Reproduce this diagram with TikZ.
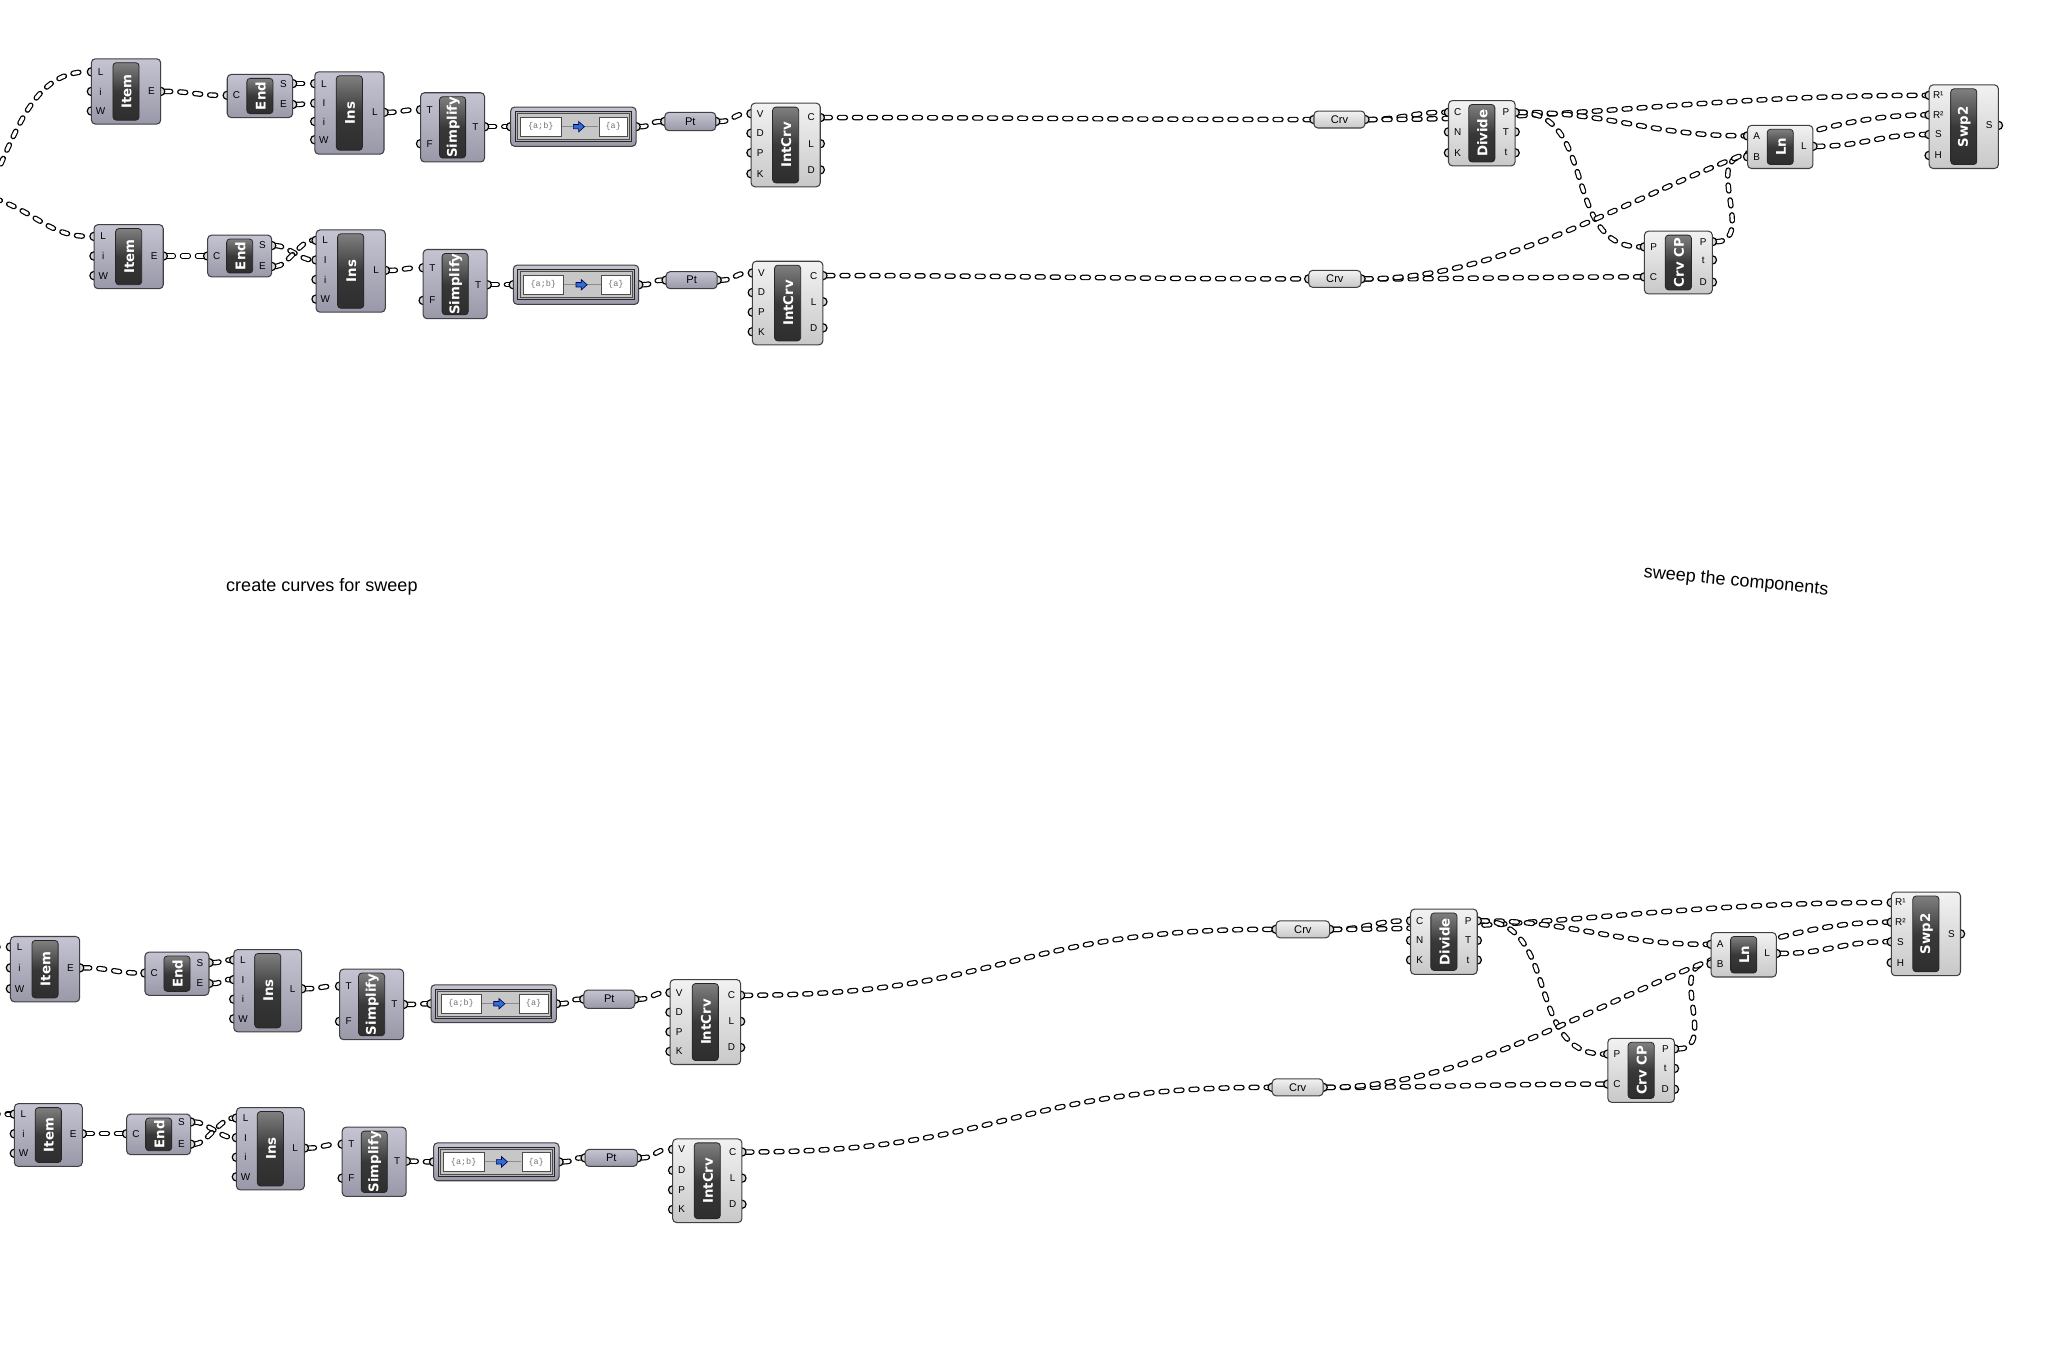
\documentclass[tikz,border=0pt]{standalone}
\usepackage{fontspec}
\setmainfont{Liberation Sans}
\newfontfamily\barfont{DejaVu Sans}
\newfontfamily\cellfont{Liberation Mono}
\pgfdeclarelayer{wires}
\pgfsetlayers{wires,main}
\definecolor{ghPa}{HTML}{C4C4D2}
\definecolor{ghPb}{HTML}{9898A8}
\definecolor{ghLa}{HTML}{F2F2F2}
\definecolor{ghLb}{HTML}{C8C8C8}
\definecolor{ghBlue}{HTML}{2F6FD0}
\tikzset{
  wire/.style={draw=black, line width=0.9pt, double=white, double distance=2.4pt, line cap=round, dash pattern=on 4.5pt off 7pt},
  pbox/.style={draw=black!75, line width=0.8pt, rounded corners=3pt, top color=ghPa, bottom color=ghPb},
  lbox/.style={draw=black!75, line width=0.8pt, rounded corners=3pt, top color=ghLa, bottom color=ghLb},
  barbox/.style={draw=black!85, line width=0.6pt, rounded corners=2.5pt, top color=black!50, bottom color=black!82, middle color=black!78},
  portc/.style={draw=black, line width=0.9pt, fill=black!15},
  plab/.style={font=\fontsize{7.6}{8}\selectfont, inner sep=0pt},
  barlab/.style={font=\barfont\bfseries\fontsize{10.2}{12}\selectfont, text=white, rotate=90, inner sep=0pt},
  ptext/.style={font=\fontsize{8.5}{9}\selectfont, inner sep=0pt},
  flatcell/.style={draw=black!70, fill=white, minimum height=14pt, inner sep=0pt, font=\cellfont\fontsize{6.5}{7}\selectfont, text=black!55},
  note/.style={font=\fontsize{13.8}{16}\selectfont, inner sep=0pt, anchor=base west}
}
% component: name x1 y1 x2 y2 label style inputs outputs
\newcommand\ghcomp[9]{%
  \foreach \yy/\lab [count=\k] in {#8}{%
    \draw[portc] (#2,\yy) circle[radius=3.2pt];
    \coordinate (#1-i\k) at ({#2-3.2},\yy);
  }%
  \foreach \yy/\lab [count=\k] in {#9}{%
    \draw[portc] (#4,\yy) circle[radius=3.2pt];
    \coordinate (#1-o\k) at ({#4+3.2},\yy);
  }%
  \draw[#7] (#2,#3) rectangle (#4,#5);
  \draw[barbox] ({(#2+#4)/2-10},{#3+3}) rectangle ({(#2+#4)/2+10},{#5-3});
  \node[barlab] (#1) at ({(#2+#4)/2+0.5},{(#3+#5)/2}) {#6};
  \foreach \yy/\lab [count=\k] in {#8}{\node[plab] (#1-li\k) at ({#2+7},\yy) {\lab};}%
  \foreach \yy/\lab [count=\k] in {#9}{\node[plab] (#1-lo\k) at ({#4-7},\yy) {\lab};}%
}
% parameter: name x1 y1 x2 y2 text style
\newcommand\ghparam[7]{%
  \draw[portc] (#2,{(#3+#5)/2}) circle[radius=3.2pt];
  \draw[portc] (#4,{(#3+#5)/2}) circle[radius=3.2pt];
  \coordinate (#1-i1) at ({#2-3.2},{(#3+#5)/2});
  \coordinate (#1-o1) at ({#4+3.2},{(#3+#5)/2});
  \draw[#7] (#2,#3) rectangle (#4,#5);
  \node[ptext] (#1) at ({(#2+#4)/2},{(#3+#5)/2}) {#6};
}
% flatten: name x1 y1 x2 y2
\newcommand\ghflat[5]{%
  \draw[portc] (#2,{(#3+#5)/2}) circle[radius=3.2pt];
  \draw[portc] (#4,{(#3+#5)/2}) circle[radius=3.2pt];
  \coordinate (#1-i1) at ({#2-3.2},{(#3+#5)/2});
  \coordinate (#1-o1) at ({#4+3.2},{(#3+#5)/2});
  \draw[pbox] (#2,#3) rectangle (#4,#5);
  \draw[draw=black!85, line width=0.9pt, fill=black!30] ({#2+3.5},{#3+3.5}) rectangle ({#4-3.5},{#5-3.5});
  \draw[draw=black!70, line width=0.5pt, fill=black!22] ({#2+5},{#3+5}) rectangle ({#4-5},{#5-5});
  \draw[black!45, line width=1pt] ({#2+38},{(#3+#5)/2}) -- ({#4-29},{(#3+#5)/2});
  \node[flatcell, minimum width=31pt] (#1-a) at ({#2+23},{(#3+#5)/2}) {\{a;b\}};
  \node[flatcell, minimum width=22pt] (#1-b) at ({#4-17.5},{(#3+#5)/2}) {\{a\}};
  \begin{scope}[shift={({#2+52},{(#3+#5)/2})}]
    \draw[draw=blue!35!black, fill=ghBlue, line width=0.5pt] (-4,-1.7) -- (0,-1.7) -- (0,-4) -- (4.5,0) -- (0,4) -- (0,1.7) -- (-4,1.7) -- cycle;
  \end{scope}
}
\newcommand\wire[3][40]{\draw[wire] (#2) .. controls +(#1,0) and +(-#1,0) .. (#3);}
\begin{document}
\begin{tikzpicture}[x=1pt,y=-1pt]
\useasboundingbox (0,0) rectangle (1568,1037);
\begin{pgfonlayer}{wires}
\fill[white] (0,0) rectangle (1568,1037);
\end{pgfonlayer}
\clip (0,0) rectangle (1568,1037);

% ---------------- top section, row 1
\ghcomp{item1}{70}{45}{123}{95}{Item}{pbox}{55/L,70/i,85/W}{70/E}
\ghcomp{end1}{174}{57}{224}{90}{End}{pbox}{73/C}{64/S,80/E}
\ghcomp{ins1}{241}{55}{294}{118}{Ins}{pbox}{64/L,79/I,93/i,107/W}{86/L}
\ghcomp{simp1}{322}{71}{371}{124}{Simplify}{pbox}{84/T,110/F}{97/T}
\ghflat{flat1}{391}{82}{487}{112}
\ghparam{pt1}{509}{86}{548}{100}{Pt}{pbox}
\ghcomp{int1}{575}{79}{628}{143}{IntCrv}{lbox}{87/V,102/D,117/P,133/K}{90/C,110/L,130/D}
\ghparam{crv1}{1006}{85}{1045}{98}{Crv}{lbox}
\ghcomp{div1}{1109}{77}{1160}{127}{Divide}{lbox}{86/C,101/N,117/K}{86/P,101/T,117/t}
\ghcomp{ln1}{1338}{96}{1388}{129}{Ln}{lbox}{104/A,120/B}{112/L}
\ghcomp{swp1}{1477}{65}{1530}{129}{Swp2}{lbox}{73/R¹,88/R²,103/S,119/H}{96/S}
\ghcomp{cp1}{1259}{177}{1311}{225}{Crv CP}{lbox}{189/P,212/C}{185/P,199/t,216/D}
\ghparam{crv2}{1002}{207}{1042}{220}{Crv}{lbox}
% row 2
\ghcomp{item2}{72}{172}{125}{221}{Item}{pbox}{181/L,196/i,211/W}{196/E}
\ghcomp{end2}{159}{180}{208}{212}{End}{pbox}{196/C}{188/S,204/E}
\ghcomp{ins2}{242}{176}{295}{239}{Ins}{pbox}{184/L,199/I,214/i,229/W}{207/L}
\ghcomp{simp2}{324}{191}{373}{244}{Simplify}{pbox}{205/T,230/F}{218/T}
\ghflat{flat2}{393}{203}{489}{233}
\ghparam{pt2}{510}{208}{549}{221}{Pt}{pbox}
\ghcomp{int2}{576}{200}{630}{264}{IntCrv}{lbox}{209/V,224/D,239/P,254/K}{211/C,231/L,251/D}

% ---------------- bottom section, row 3
\ghcomp{item3}{8}{717}{61}{767}{Item}{pbox}{725/L,741/i,757/W}{741/E}
\ghcomp{end3}{111}{729}{160}{762}{End}{pbox}{745/C}{737/S,753/E}
\ghcomp{ins3}{179}{727}{231}{790}{Ins}{pbox}{735/L,750/I,765/i,780/W}{757/L}
\ghcomp{simp3}{260}{742}{309}{796}{Simplify}{pbox}{755/T,782/F}{769/T}
\ghflat{flat3}{330}{754}{426}{783}
\ghparam{pt3}{447}{758}{486}{772}{Pt}{pbox}
\ghcomp{int3}{513}{750}{567}{815}{IntCrv}{lbox}{760/V,775/D,790/P,805/K}{762/C,782/L,802/D}
\ghparam{crv3}{977}{705}{1018}{718}{Crv}{lbox}
\ghcomp{div3}{1080}{696}{1131}{746}{Divide}{lbox}{705/C,720/N,735/K}{705/P,720/T,735/t}
\ghcomp{ln3}{1310}{714}{1360}{748}{Ln}{lbox}{723/A,738/B}{730/L}
\ghcomp{swp3}{1448}{683}{1501}{747}{Swp2}{lbox}{691/R¹,706/R²,721/S,737/H}{715/S}
\ghcomp{cp3}{1231}{795}{1282}{844}{Crv CP}{lbox}{807/P,830/C}{803/P,818/t,834/D}
\ghparam{crv4}{974}{826}{1013}{839}{Crv}{lbox}
% row 4
\ghcomp{item4}{11}{845}{63}{893}{Item}{pbox}{853/L,868/i,883/W}{868/E}
\ghcomp{end4}{97}{853}{146}{884}{End}{pbox}{868/C}{859/S,876/E}
\ghcomp{ins4}{181}{848}{233}{911}{Ins}{pbox}{856/L,871/I,886/i,901/W}{879/L}
\ghcomp{simp4}{262}{863}{311}{916}{Simplify}{pbox}{876/T,902/F}{889/T}
\ghflat{flat4}{332}{875}{428}{904}
\ghparam{pt4}{448}{880}{488}{893}{Pt}{pbox}
\ghcomp{int4}{515}{872}{568}{936}{IntCrv}{lbox}{880/V,896/D,911/P,926/K}{882/C,902/L,922/D}

% ---------------- notes
\node[note] (n1) at (173,453) {create curves for sweep};
\node[note, rotate=-5.5] (n2) at (1258,442) {sweep the components};

% ---------------- wires
\coordinate (src1) at (-4,136);
\coordinate (src2) at (-4,152);
\coordinate (src3) at (-6,725);
\coordinate (src4) at (-6,853);
\begin{pgfonlayer}{wires}
\draw[wire] (src1) .. controls (14,96) and (28,55) .. (item1-i1);
\draw[wire] (src2) .. controls (30,164) and (38,181) .. (item2-i1);
\draw[wire] (src3) -- (item3-i1);
\draw[wire] (src4) -- (item4-i1);
% row 1
\wire[20]{item1-o1}{end1-i1}
\wire[6]{end1-o1}{ins1-i1}
\wire[6]{end1-o2}{ins1-i2}
\wire[10]{ins1-o1}{simp1-i1}
\wire[6]{simp1-o1}{flat1-i1}
\wire[8]{flat1-o1}{pt1-i1}
\wire[10]{pt1-o1}{int1-i1}
\wire[150]{int1-o1}{crv1-i1}
\wire[25]{crv1-o1}{div1-i1}
\wire[170]{crv1-o1}{swp1-i1}
\wire[70]{div1-o1}{ln1-i1}
\wire[60]{div1-o1}{cp1-i1}
\wire[30]{cp1-o1}{ln1-i2}
\wire[35]{ln1-o1}{swp1-i3}
\wire[80]{crv2-o1}{cp1-i2}
\wire[150]{crv2-o1}{swp1-i2}
% row 2
\wire[15]{item2-o1}{end2-i1}
\wire[8]{end2-o1}{ins2-i2}
\wire[8]{end2-o2}{ins2-i1}
\wire[10]{ins2-o1}{simp2-i1}
\wire[6]{simp2-o1}{flat2-i1}
\wire[8]{flat2-o1}{pt2-i1}
\wire[10]{pt2-o1}{int2-i1}
\wire[150]{int2-o1}{crv2-i1}
% row 3
\wire[20]{item3-o1}{end3-i1}
\wire[6]{end3-o1}{ins3-i1}
\wire[6]{end3-o2}{ins3-i2}
\wire[10]{ins3-o1}{simp3-i1}
\wire[6]{simp3-o1}{flat3-i1}
\wire[8]{flat3-o1}{pt3-i1}
\wire[10]{pt3-o1}{int3-i1}
\wire[200]{int3-o1}{crv3-i1}
\wire[25]{crv3-o1}{div3-i1}
\wire[170]{crv3-o1}{swp3-i1}
\wire[70]{div3-o1}{ln3-i1}
\wire[60]{div3-o1}{cp3-i1}
\wire[30]{cp3-o1}{ln3-i2}
\wire[35]{ln3-o1}{swp3-i3}
\wire[80]{crv4-o1}{cp3-i2}
\wire[150]{crv4-o1}{swp3-i2}
% row 4
\wire[15]{item4-o1}{end4-i1}
\wire[8]{end4-o1}{ins4-i2}
\wire[8]{end4-o2}{ins4-i1}
\wire[10]{ins4-o1}{simp4-i1}
\wire[6]{simp4-o1}{flat4-i1}
\wire[8]{flat4-o1}{pt4-i1}
\wire[10]{pt4-o1}{int4-i1}
\wire[200]{int4-o1}{crv4-i1}
\end{pgfonlayer}
\end{tikzpicture}
\end{document}
